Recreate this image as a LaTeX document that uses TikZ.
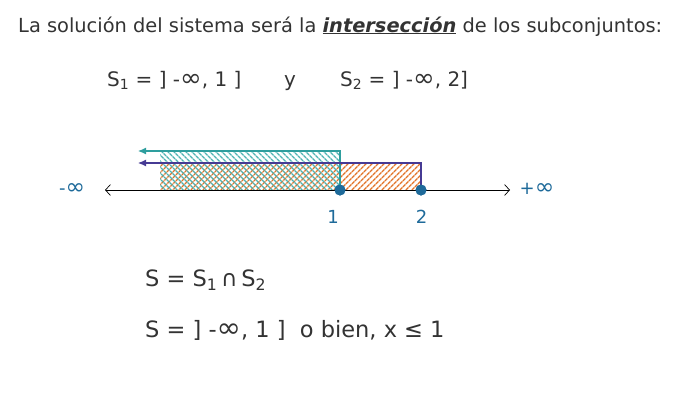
\documentclass[tikz,border=0pt]{standalone}
\usepackage{fontspec}
\setmainfont{DejaVu Sans}
\usetikzlibrary{arrows.meta,patterns.meta}
\definecolor{txt}{HTML}{333333}
\definecolor{ablue}{HTML}{1E6A9A}
\definecolor{teal1}{HTML}{2E9E9E}
\definecolor{tealh}{HTML}{4FB3B3}
\definecolor{orng}{HTML}{E2742A}
\definecolor{purp}{HTML}{463A94}
\newcommand{\infy}{\scalebox{1.3}[1.25]{∞}}
\begin{document}
\begin{tikzpicture}[x=1pt,y=-1pt,
  txtnode/.style={inner sep=0pt,text=txt,anchor=base west},
  axlabel/.style={inner sep=0pt,text=ablue,font=\fontsize{18}{20}\selectfont},
  dot/.style={circle,fill=ablue,inner sep=0pt,minimum size=11pt},
  axis/.style={black,line width=0.7pt,{Straight Barb[length=5pt,width=11pt]}-{Straight Barb[length=5pt,width=11pt]}},
  setline/.style={line width=1.1pt,-{Latex[length=8pt,width=7pt]}},
]
\useasboundingbox (0,0) rectangle (683,410);
% title
\node[txtnode,font=\fontsize{19.4}{22}\selectfont] (title) at (18,32)
  {La solución del sistema será la \underline{\textit{\textbf{intersección}}} de los subconjuntos:};
% sets
\node[txtnode,font=\fontsize{20}{22}\selectfont] (s1) at (107,86) {S\textsubscript{1} = ] -\infy, 1 ]};
\node[txtnode,font=\fontsize{20}{22}\selectfont] (yy) at (284,86) {y};
\node[txtnode,font=\fontsize{20}{22}\selectfont] (s2) at (340,86) {S\textsubscript{2} = ] -\infy, 2]};
% hatched regions
\fill[pattern={Lines[angle=45,distance=4pt,line width=1.5pt]},pattern color=orng]
  (160,163) rectangle (421,190);
\fill[pattern={Lines[angle=-45,distance=4pt,line width=1.5pt]},pattern color=tealh]
  (160,151) rectangle (340,190);
% coordinates
\coordinate (L) at (105,190);
\coordinate (R) at (510,190);
\coordinate (t0) at (138,151);
\coordinate (t1) at (340,151);
\coordinate (q0) at (138,163);
\coordinate (q1) at (421,163);
\node[dot] (p1) at (340,190) {};
\node[dot] (p2) at (421,190) {};
% axis
\draw[axis] (L) -- (R);
% set boundaries
\draw[setline,teal1] (p1.center) -- (t1) -- (t0);
\draw[setline,purp] (p2.center) -- (q1) -- (q0);
\node[dot] at (p1) {};
\node[dot] at (p2) {};
% labels
\node[axlabel] (minf) at (72,189) {-\infy};
\node[axlabel] (pinf) at (537,189) {+\infy};
\node[axlabel,anchor=base] (l1) at (333,223) {1};
\node[axlabel,anchor=base] (l2) at (421.5,223) {2};
% results
\node[txtnode,font=\fontsize{22.5}{26}\selectfont] (r1) at (145,286) {S = S\textsubscript{1}\,∩\,S\textsubscript{2}};
\node[txtnode,font=\fontsize{22.5}{26}\selectfont] (r2) at (145,337) {S = ] -\infy, 1 ]\ \ o bien, x ≤ 1};
\end{tikzpicture}
\end{document}
